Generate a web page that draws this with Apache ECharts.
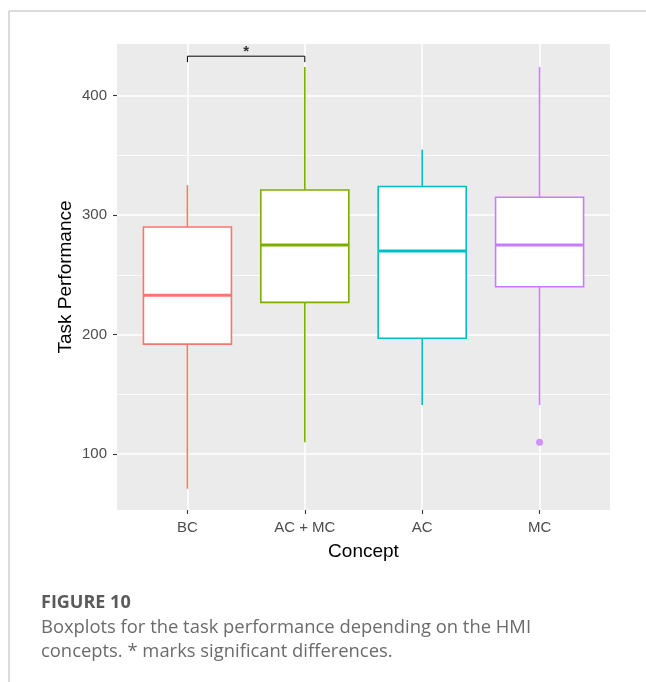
<!DOCTYPE html>
<html>
<head>
<meta charset="utf-8">
<script src="https://cdn.jsdelivr.net/npm/echarts@6/dist/echarts.min.js"></script>
<style>
  html, body { margin: 0; padding: 0; background: #ffffff; }
  #chart { width: 646px; height: 682px; }
</style>
</head>
<body>
<div id="chart"></div>
<script>
// Task performance per HMI concept (five-number summaries)
const categories = ['BC', 'AC + MC', 'AC', 'MC'];
const whiskerLow = [71, 110, 141, 141];
const quartile1 = [192, 227, 197, 240];
const medians = [233, 275, 270, 275];
const quartile3 = [290, 321, 324, 315];
const whiskerHigh = [325, 424, 355, 424];
// Outlying observations: [category index, value]
const outliers = [[3, 110]];
const outlierColors = ['#C77CFF'];
// Significance bracket between two concepts
const sigPair = [0, 1];
const sigLevel = 433;
const sigTip = 428;
const sigMark = '*';
const yTicks = [100, 200, 300, 400];
const yMinorGrid = [150, 250, 350];

const palette = ['#F8766D', '#7CAE00', '#00BFC4', '#C77CFF'];
const boxWidthUnits = 0.75;

const boxData = categories.map((c, i) => [i, whiskerLow[i], quartile1[i], medians[i], quartile3[i], whiskerHigh[i]]);

function renderBox(params, api) {
  const x = api.value(0);
  const lo = api.coord([x, api.value(1)]);
  const q1 = api.coord([x, api.value(2)]);
  const md = api.coord([x, api.value(3)]);
  const q3 = api.coord([x, api.value(4)]);
  const hi = api.coord([x, api.value(5)]);
  const half = api.size([boxWidthUnits, 0])[0] / 2;
  const color = palette[params.dataIndex];
  const lw = 1.6;
  return {
    type: 'group',
    children: [
      { type: 'line', shape: { x1: lo[0], y1: lo[1], x2: q1[0], y2: q1[1] }, style: { stroke: color, lineWidth: lw } },
      { type: 'line', shape: { x1: q3[0], y1: q3[1], x2: hi[0], y2: hi[1] }, style: { stroke: color, lineWidth: lw } },
      { type: 'rect', shape: { x: q1[0] - half, y: q3[1], width: half * 2, height: q1[1] - q3[1] },
        style: { fill: '#ffffff', stroke: color, lineWidth: lw } },
      { type: 'line', shape: { x1: md[0] - half, y1: md[1], x2: md[0] + half, y2: md[1] },
        style: { stroke: color, lineWidth: 3 } }
    ]
  };
}

const gridLines = []
  .concat(categories.map((c, i) => ({ xAxis: i, lineStyle: { width: 1.5 } })))
  .concat(yTicks.map(v => ({ yAxis: v, lineStyle: { width: 1.5 } })))
  .concat(yMinorGrid.map(v => ({ yAxis: v, lineStyle: { width: 0.8 } })));

const tickStyle = { show: true, length: 4, lineStyle: { color: '#333333', width: 1.1 } };
const hiddenAxisLine = { show: true, onZero: false, lineStyle: { color: 'rgba(0,0,0,0)' } };

const chart = echarts.init(document.getElementById('chart'), null, { renderer: 'canvas' });

chart.setOption({
  animation: false,
  backgroundColor: '#ffffff',
  textStyle: { fontFamily: 'Liberation Sans, Arial, sans-serif' },
  grid: {
    left: 117, right: 36, top: 44, bottom: 172,
    show: true, backgroundColor: '#EBEBEB', borderWidth: 0
  },
  xAxis: {
    type: 'value', min: -0.6, max: 3.6,
    name: 'Concept', nameLocation: 'middle', nameGap: 32,
    nameTextStyle: { fontSize: 19, color: '#000000' },
    axisLine: hiddenAxisLine,
    splitLine: { show: false },
    axisTick: Object.assign({ customValues: categories.map((c, i) => i) }, tickStyle),
    axisLabel: {
      customValues: categories.map((c, i) => i),
      formatter: v => categories[Math.round(v)],
      fontSize: 15, color: '#4D4D4D', margin: 10
    }
  },
  yAxis: {
    type: 'value', min: 53.2, max: 443.2,
    name: 'Task Performance', nameLocation: 'middle', nameGap: 42, nameRotate: 90,
    nameMoveOverlap: false,
    nameTextStyle: { fontSize: 19, color: '#000000' },
    axisLine: hiddenAxisLine,
    splitLine: { show: false },
    axisTick: Object.assign({ customValues: yTicks }, tickStyle),
    axisLabel: { customValues: yTicks, fontSize: 15, color: '#4D4D4D', margin: 10 }
  },
  series: [
    {
      type: 'line', data: [], z: 1, silent: true,
      markLine: {
        z: 1, silent: true, symbol: 'none', animation: false,
        label: { show: false },
        lineStyle: { color: '#ffffff', type: 'solid' },
        data: gridLines
      }
    },
    {
      type: 'custom', z: 3,
      renderItem: renderBox,
      encode: { x: 0, y: [1, 2, 3, 4, 5] },
      data: boxData
    },
    {
      type: 'scatter', z: 4,
      symbolSize: 7,
      data: outliers.map((p, i) => ({ value: p, itemStyle: { color: outlierColors[i] } }))
    },
    {
      type: 'line', z: 4,
      symbol: 'none',
      lineStyle: { color: '#000000', width: 1 },
      data: [[sigPair[0], sigTip], [sigPair[0], sigLevel], [sigPair[1], sigLevel], [sigPair[1], sigTip]]
    },
    {
      type: 'scatter', z: 4, symbolSize: 0,
      data: [[(sigPair[0] + sigPair[1]) / 2, sigLevel]],
      label: { show: true, formatter: sigMark, position: 'top', distance: -3, fontSize: 15, color: '#000000', fontWeight: 'bold' }
    }
  ],
  graphic: [
    { type: 'line', shape: { x1: 9, y1: 11, x2: 646, y2: 11 }, style: { stroke: '#cfcfcf', lineWidth: 1.5 } },
    { type: 'line', shape: { x1: 9, y1: 11, x2: 9, y2: 682 }, style: { stroke: '#cfcfcf', lineWidth: 1.5 } },
    { type: 'text', left: 41, top: 594, style: { text: 'FIGURE 10', fontFamily: 'Open Sans', fontWeight: 'bold', fontSize: 18, fill: '#5a5a5a' } },
    { type: 'text', left: 41, top: 619, style: { text: 'Boxplots for the task performance depending on the HMI', fontFamily: 'Open Sans', fontSize: 18.4, fill: '#6b6b6b' } },
    { type: 'text', left: 41, top: 643, style: { text: 'concepts. * marks significant differences.', fontFamily: 'Open Sans', fontSize: 18.4, fill: '#6b6b6b' } }
  ]
});
</script>
</body>
</html>
